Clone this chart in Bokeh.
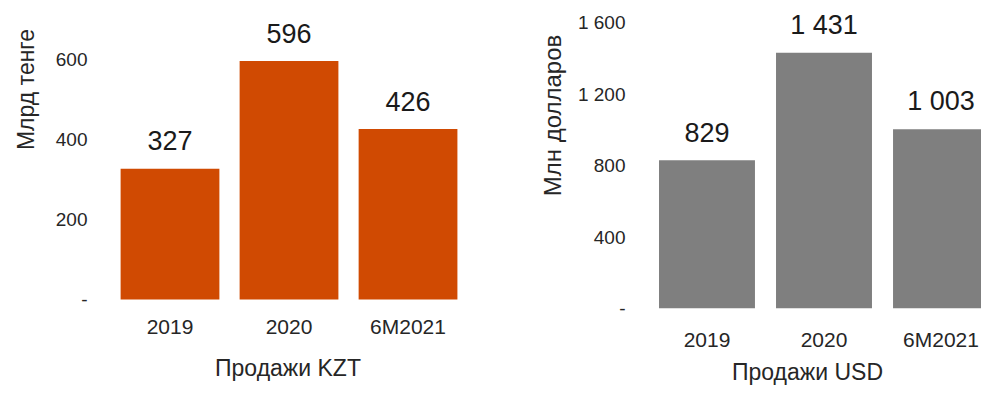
import math

from bokeh.plotting import figure
from bokeh.layouts import row
from bokeh.models import Range1d, FixedTicker, ColumnDataSource
from bokeh.core.properties import value
from bokeh.embed import file_html
from bokeh.resources import INLINE

# Sales by period
categories = ["2019", "2020", "6M2021"]
sales_kzt = [327, 596, 426]          # bln tenge
sales_usd = [829, 1431, 1003]        # mln dollars
labels_kzt = ["327", "596", "426"]
labels_usd = ["829", "1 431", "1 003"]

ticks_kzt = [0, 200, 400, 600]
tick_labels_kzt = ["-", "200", "400", "600"]
ticks_usd = [0, 400, 800, 1200, 1600]
tick_labels_usd = ["-", "400", "800", "1 200", "1 600"]

FONT = "Liberation Sans"
TEXT = "#262626"
HEIGHT = 393
BORDER_TOP = 5        # shared by every panel in the row
BORDER_BOTTOM = 85


def title_strip(text, width, cx, cy, size):
    """Narrow panel carrying a vertical axis title (pixel coordinates)."""
    p = figure(width=width, height=HEIGHT, output_backend="svg",
               toolbar_location=None, x_axis_location=None,
               y_axis_location=None, x_range=Range1d(0, width),
               y_range=Range1d(BORDER_BOTTOM, HEIGHT - BORDER_TOP),
               min_border_left=0, min_border_right=0,
               min_border_top=BORDER_TOP, min_border_bottom=BORDER_BOTTOM)
    p.outline_line_color = None
    p.grid.visible = False
    p.text(x=[cx], y=[HEIGHT - cy], text=[text], angle=math.pi / 2,
           text_align="center", text_baseline="middle",
           text_font=value(FONT), text_font_size=size, text_color=TEXT)
    return p


def bar_panel(values, labels, ticks, tick_labels, color, x_title,
              width, x_range, y_range, bar_width, border_left, border_right,
              x_standoff, x_title_standoff):
    xs = list(range(1, len(categories) + 1))
    src = ColumnDataSource(dict(x=xs, top=values, label=labels))
    p = figure(width=width, height=HEIGHT, output_backend="svg",
               toolbar_location=None, x_range=x_range, y_range=y_range,
               min_border_left=border_left, min_border_right=border_right,
               min_border_top=BORDER_TOP, min_border_bottom=BORDER_BOTTOM)
    p.outline_line_color = None
    p.grid.visible = False
    p.background_fill_color = "white"
    p.border_fill_color = "white"

    p.vbar(x="x", top="top", bottom=0, width=bar_width, source=src,
           fill_color=color, line_color=None)
    p.text(x="x", y="top", text="label", source=src, text_align="center",
           text_baseline="alphabetic", y_offset=-28, text_font_size="27px",
           text_font=value(FONT), text_color="#1a1a1a")

    for ax in (p.xaxis[0], p.yaxis[0]):
        ax.axis_line_color = None
        ax.major_tick_line_color = None
        ax.minor_tick_line_color = None
        ax.major_tick_out = 0
        ax.major_tick_in = 0
        ax.major_label_text_font = FONT
        ax.major_label_text_color = TEXT
        ax.axis_label_text_font = FONT
        ax.axis_label_text_color = TEXT
        ax.axis_label_text_font_style = "normal"
        ax.axis_label_text_font_size = "23px"

    p.xaxis.ticker = FixedTicker(ticks=xs)
    p.xaxis.major_label_overrides = {x: c for x, c in zip(xs, categories)}
    p.xaxis.major_label_text_font_size = "21px"
    p.xaxis.major_label_standoff = x_standoff
    p.xaxis.axis_label = x_title
    p.xaxis.axis_label_standoff = x_title_standoff

    p.yaxis.ticker = FixedTicker(ticks=ticks)
    p.yaxis.major_label_overrides = {t: s for t, s in zip(ticks, tick_labels)}
    p.yaxis.major_label_text_font_size = "19px"
    p.yaxis.major_label_standoff = 8
    return p


kzt_title = title_strip("Млрд тенге", 45, 25, 89, "23px")
kzt = bar_panel(sales_kzt, labels_kzt, ticks_kzt, tick_labels_kzt, "#D04A02",
                "Продажи KZT", 445,
                Range1d(0.374, 3.609), Range1d(-22.5, 735), 0.83,
                50, 10, 6, 14)

usd_title = title_strip("Млн долларов", 80, 62, 115, "24px")
usd = bar_panel(sales_usd, labels_usd, ticks_usd, tick_labels_usd, "#7F7F7F",
                "Продажи USD", 411,
                Range1d(0.372, 3.346), Range1d(0, 1695.6), 0.82,
                63, 0, 19, 5)

layout = row(kzt_title, kzt, usd_title, usd, spacing=0)
open("out.html", "w").write(file_html(layout, INLINE))
